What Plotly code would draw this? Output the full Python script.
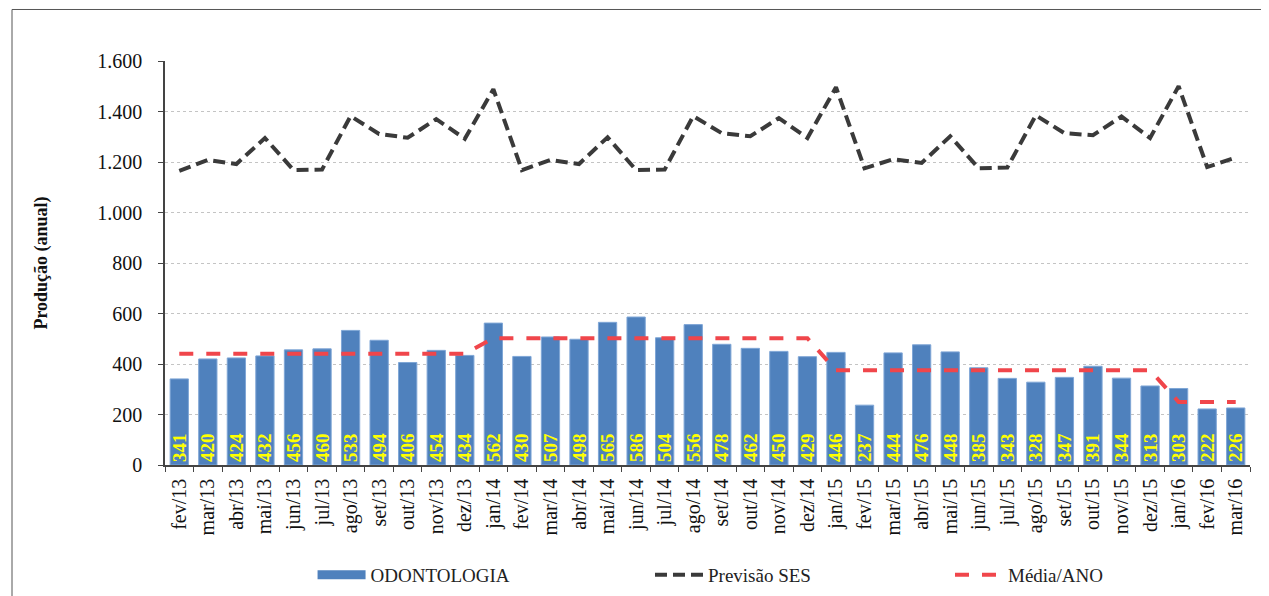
import plotly.graph_objects as go

categories = ["fev/13","mar/13","abr/13","mai/13","jun/13","jul/13","ago/13","set/13","out/13","nov/13","dez/13",
              "jan/14","fev/14","mar/14","abr/14","mai/14","jun/14","jul/14","ago/14","set/14","out/14","nov/14","dez/14",
              "jan/15","fev/15","mar/15","abr/15","mai/15","jun/15","jul/15","ago/15","set/15","out/15","nov/15","dez/15",
              "jan/16","fev/16","mar/16"]
odontologia = [341,420,424,432,456,460,533,494,406,454,434,
               562,430,507,498,565,586,504,556,478,462,450,429,
               446,237,444,476,448,385,343,328,347,391,344,313,
               303,222,226]
previsao_ses = [1165,1208,1192,1295,1168,1170,1382,1311,1296,1370,1292,1488,
                1168,1208,1192,1298,1168,1170,1382,1314,1302,1374,1295,1496,
                1175,1211,1196,1302,1175,1178,1385,1314,1306,1380,1295,1500,
                1180,1218]
media_ano = [441]*11 + [502]*12 + [375]*12 + [250]*3
y_ticks = [0,200,400,600,800,1000,1200,1400,1600]

serif = "Liberation Serif, Times New Roman, serif"
bar_color = "#4F81BD"

fig = go.Figure()
fig.add_trace(go.Bar(
    x=categories, y=odontologia, name="ODONTOLOGIA", showlegend=False,
    marker=dict(color=bar_color, line=dict(color="#7FA6D6", width=1)),
    text=[str(v) for v in odontologia], textposition="inside", insidetextanchor="start",
    constraintext="none",
    textangle=-90, textfont=dict(family=serif, size=19, color="#FFFF00", weight="bold"),
))
# legend entry for bars (wide rectangle swatch)
fig.add_trace(go.Scatter(
    x=[None], y=[None], name="ODONTOLOGIA", mode="lines", legend="legend",
    line=dict(color=bar_color, width=9),
))
fig.add_trace(go.Scatter(
    x=categories, y=previsao_ses, name="Previsão SES", mode="lines", legend="legend2",
    line=dict(color="#3A3A3A", width=4, dash="12px,6px"),
))
fig.add_trace(go.Scatter(
    x=categories, y=media_ano, name="Média/ANO", mode="lines", legend="legend3",
    line=dict(color="#F0464B", width=4, dash="14px,13px"),
))

leg_common = dict(orientation="h", xanchor="left", y=-0.272, yanchor="middle",
                  font=dict(family=serif, size=19, color="#222222"),
                  itemwidth=48, bgcolor="rgba(0,0,0,0)")

fig.update_layout(
    width=1261, height=588,
    margin=dict(l=157, r=19, t=53, b=131, autoexpand=False),
    paper_bgcolor="white", plot_bgcolor="white",
    separators=",.",
    bargap=0.36,
    font=dict(family=serif, size=19, color="#111111"),
    showlegend=True,
    legend=dict(x=0.136, **leg_common),
    legend2=dict(x=0.447, **leg_common),
    legend3=dict(x=0.7235, **leg_common),
    shapes=[dict(type="rect", xref="paper", yref="paper",
                 x0=-0.141, x1=1.011, y0=-0.36, y1=1.1275,
                 line=dict(color="#555555", width=1), fillcolor="rgba(0,0,0,0)", layer="below")],
)
fig.update_xaxes(
    type="category", tickangle=-90, showline=True, linecolor="#444444", linewidth=1.5,
    ticks="outside", tickson="boundaries", ticklen=5, tickcolor="#444444",
    ticklabelstandoff=4,
    tickfont=dict(family=serif, size=20, color="#111111"), showgrid=False,
)
fig.update_yaxes(
    range=[0, 1600], tickvals=y_ticks, tickformat=",d",
    showline=True, linecolor="#444444", linewidth=1.5, ticks="outside", ticklen=5, tickcolor="#444444",
    showgrid=True, gridcolor="#C4C4C4", griddash="dot", gridwidth=1,
    ticklabelstandoff=12,
    tickfont=dict(family=serif, size=20, color="#111111"),
    title=dict(text="<b>Produção (anual)</b>", font=dict(family=serif, size=18, color="#111111"), standoff=45),
)

fig.write_html("out.html")
